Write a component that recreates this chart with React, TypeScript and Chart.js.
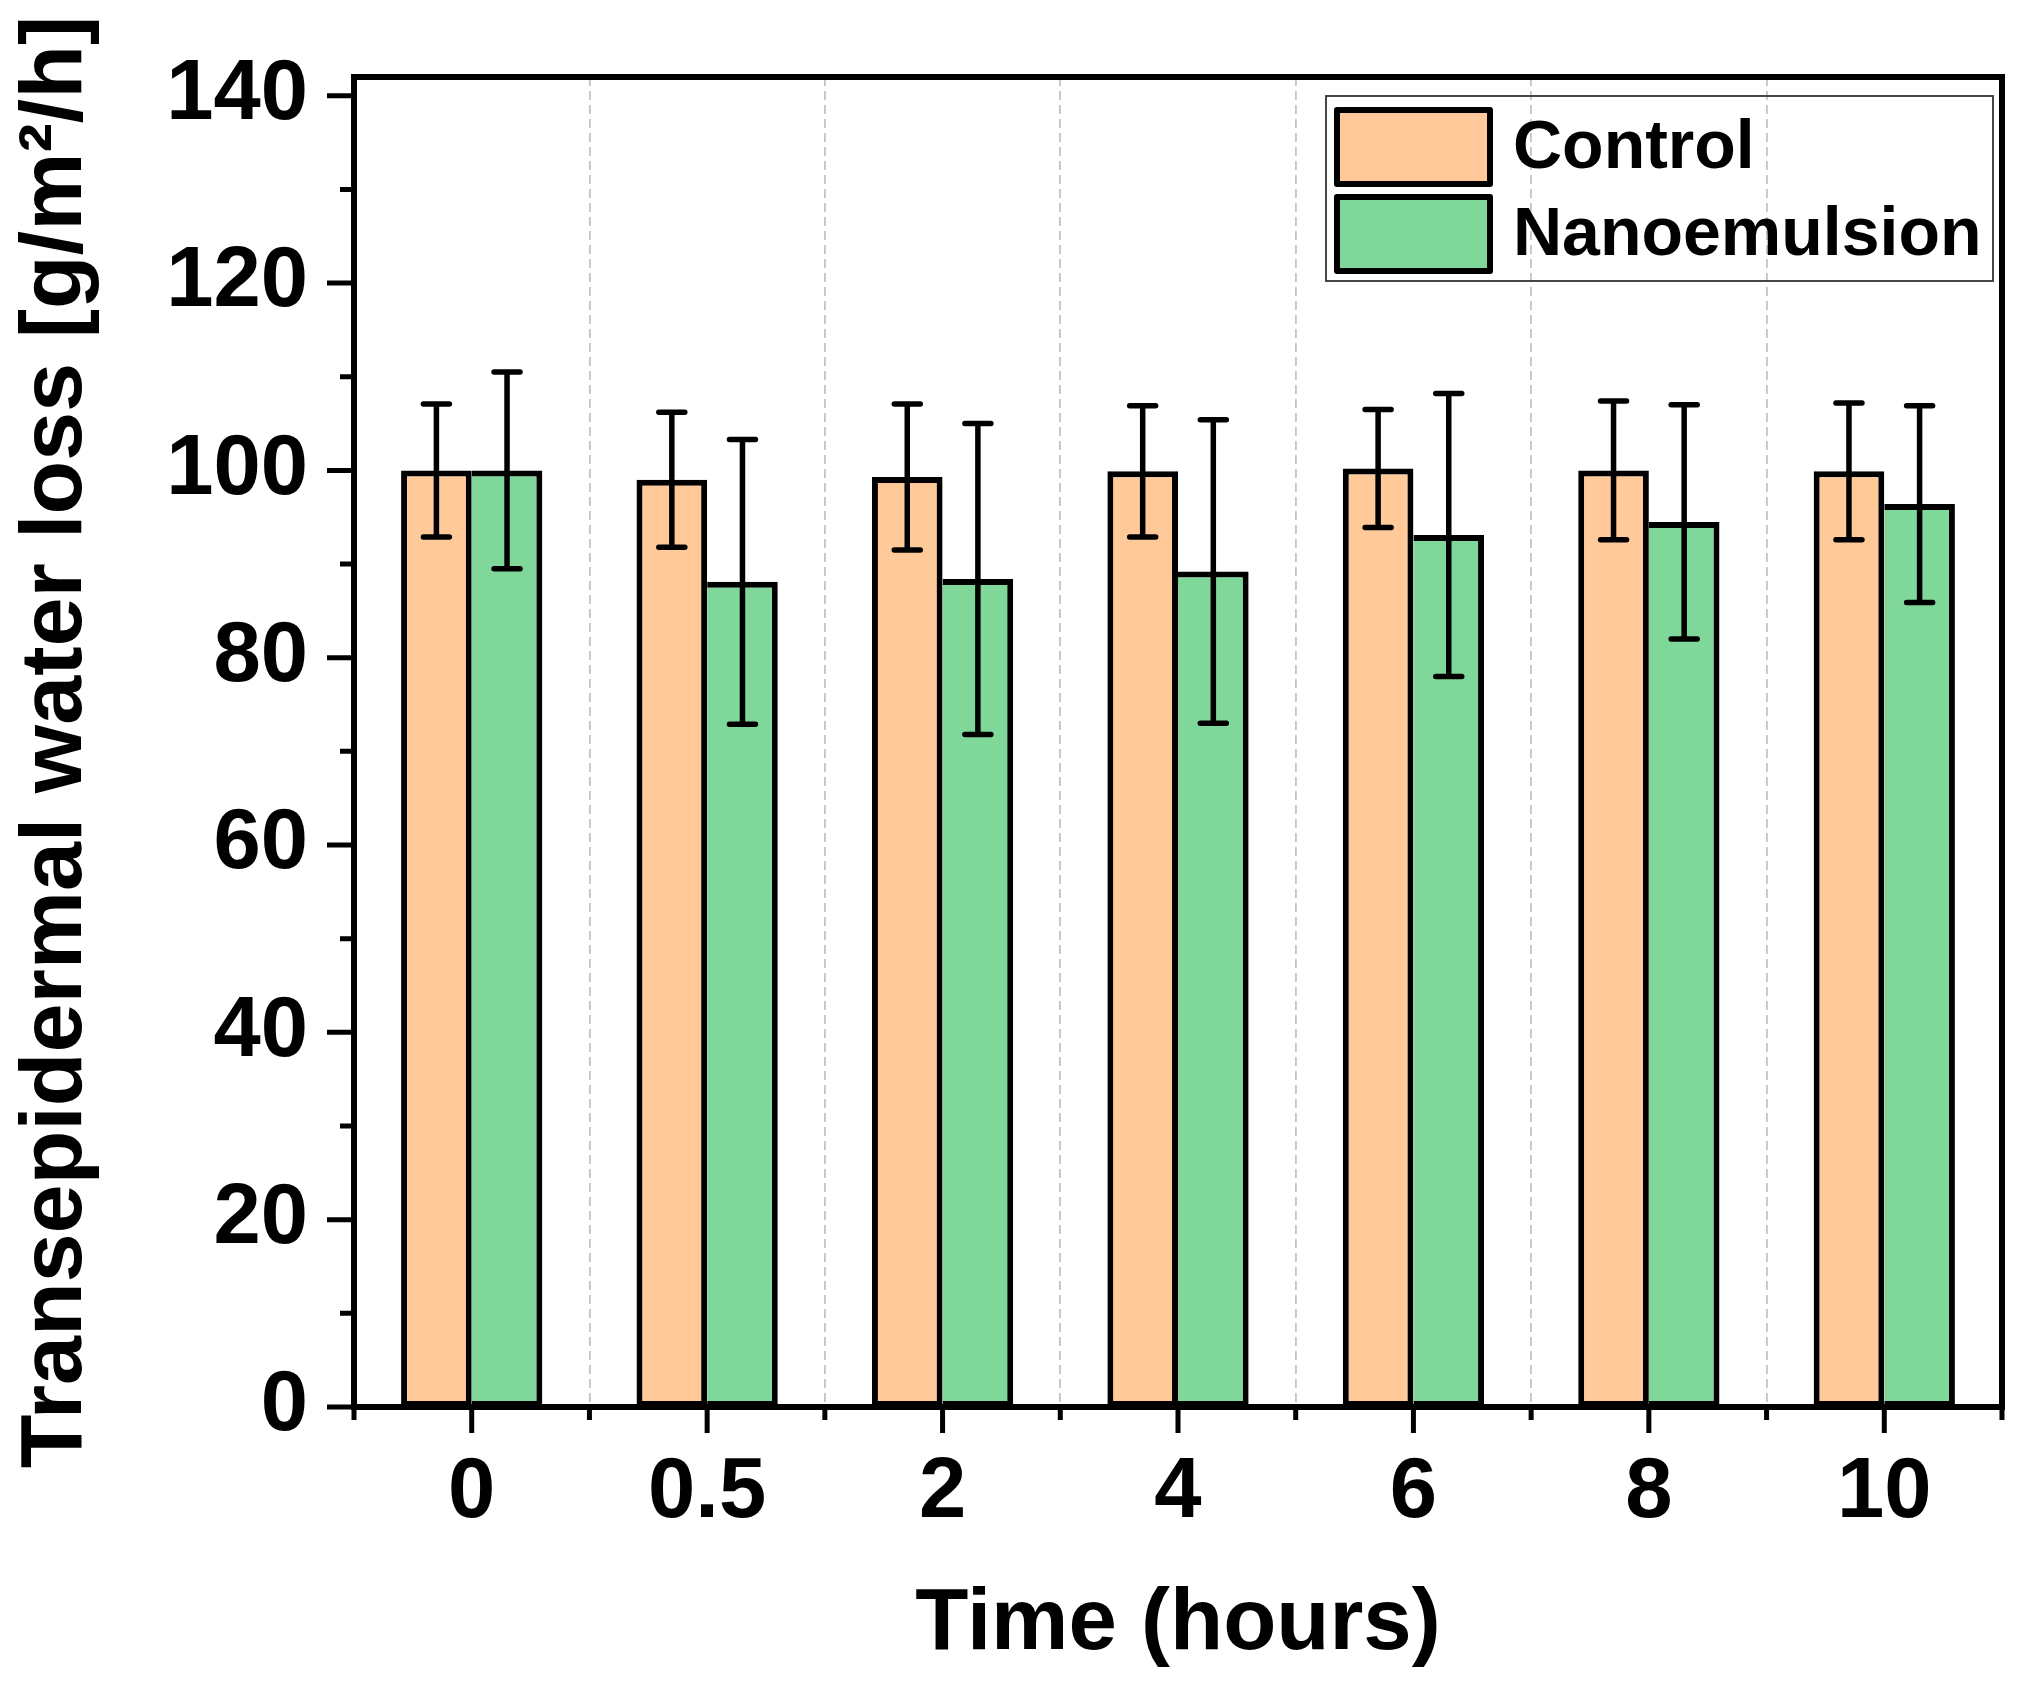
import { useEffect, useRef } from "react"
import { Chart, registerables } from "chart.js"

Chart.register(...registerables)

// Time points (hours)
const timeLabels = ["0", "0.5", "2", "4", "6", "8", "10"]

// TEWL means and error bars
const controlMeans = [100.0, 99.0, 99.3, 99.9, 100.2, 100.0, 99.9]
const controlErrors = [7.1, 7.2, 7.8, 7.0, 6.3, 7.4, 7.3]
const nanoMeans = [100.0, 88.1, 88.4, 89.2, 93.1, 94.5, 96.4]
const nanoErrors = [10.5, 15.2, 16.6, 16.2, 15.1, 12.5, 10.5]

const seriesNames = ["Control", "Nanoemulsion"]
const seriesColors = ["#FFC999", "#7FD899"]

const FONT = "'Liberation Sans', Arial, sans-serif"

const errorBarPlugin = {
  id: "errorBars",
  afterDatasetsDraw(chart: any) {
    const ctx = chart.ctx
    const yScale = chart.scales.y
    const errs = [controlErrors, nanoErrors]
    ctx.save()
    ctx.strokeStyle = "#000"
    ctx.lineWidth = 5.5
    ctx.lineCap = "round"
    chart.data.datasets.forEach((ds: any, d: number) => {
      const meta = chart.getDatasetMeta(d)
      meta.data.forEach((bar: any, i: number) => {
        const v = ds.data[i]
        const e = errs[d][i]
        const yt = yScale.getPixelForValue(v + e)
        const yb = yScale.getPixelForValue(v - e)
        ctx.beginPath()
        ctx.moveTo(bar.x, yt)
        ctx.lineTo(bar.x, yb)
        ctx.moveTo(bar.x - 13, yt)
        ctx.lineTo(bar.x + 13, yt)
        ctx.moveTo(bar.x - 13, yb)
        ctx.lineTo(bar.x + 13, yb)
        ctx.stroke()
      })
    })
    ctx.restore()
  },
}

const framePlugin = {
  id: "frameTicks",
  afterDraw(chart: any) {
    const ctx = chart.ctx
    const { left, right, top, bottom } = chart.chartArea
    const x = chart.scales.x
    const y = chart.scales.y
    ctx.save()
    ctx.strokeStyle = "#000"
    ctx.lineWidth = 5
    ctx.lineCap = "butt"
    ctx.beginPath()
    // y ticks: major every 20, minor every 10
    for (let v = 0; v <= 140; v += 10) {
      const py = y.getPixelForValue(v)
      const len = v % 20 === 0 ? 27 : 14
      ctx.moveTo(left - len, py)
      ctx.lineTo(left, py)
    }
    // x ticks: major at category centres, minor at boundaries
    const n = timeLabels.length
    for (let i = 0; i < n; i++) {
      const px = x.getPixelForValue(i)
      ctx.moveTo(px, bottom)
      ctx.lineTo(px, bottom + 26)
    }
    for (let k = 0; k <= n; k++) {
      const px = left + (k * (right - left)) / n
      ctx.moveTo(px, bottom)
      ctx.lineTo(px, bottom + 13)
    }
    ctx.stroke()
    ctx.lineWidth = 6
    ctx.strokeRect(left, top, right - left, bottom - top)

    // legend inside the plot, top right
    const lw = 667
    const lh = 185
    const lx = right - 9 - lw
    const ly = top + 19
    ctx.lineWidth = 1.8
    ctx.strokeStyle = "#333"
    ctx.strokeRect(lx, ly, lw, lh)
    ctx.font = `bold 68px ${FONT}`
    ctx.textBaseline = "middle"
    ctx.textAlign = "left"
    seriesNames.forEach((name, i) => {
      const sx = lx + 11
      const sy = ly + 14 + i * 87
      ctx.fillStyle = seriesColors[i]
      ctx.fillRect(sx, sy, 153, 74)
      ctx.lineWidth = 6
      ctx.strokeStyle = "#000"
      ctx.lineJoin = "round"
      ctx.strokeRect(sx, sy, 153, 74)
      ctx.fillStyle = "#000"
      ctx.fillText(name, lx + 187, sy + 39)
    })
    ctx.restore()
  },
}

export default function App() {
  const canvasRef = useRef<HTMLCanvasElement>(null)
  const chartRef = useRef<Chart | null>(null)

  useEffect(() => {
    if (!canvasRef.current) return
    if (chartRef.current) chartRef.current.destroy()

    chartRef.current = new Chart(canvasRef.current, {
      type: "bar",
      data: {
        labels: timeLabels,
        datasets: [
          {
            label: seriesNames[0],
            data: controlMeans,
            backgroundColor: seriesColors[0],
            borderColor: "#000",
            borderWidth: 6,
            borderSkipped: false,
          },
          {
            label: seriesNames[1],
            data: nanoMeans,
            backgroundColor: seriesColors[1],
            borderColor: "#000",
            borderWidth: { top: 6, right: 6, bottom: 6, left: 0 },
            borderSkipped: false,
          },
        ],
      },
      options: {
        responsive: false,
        animation: false,
        devicePixelRatio: 1,
        layout: { padding: { left: 0, right: 20, top: 77, bottom: 0 } },
        categoryPercentage: 0.6,
        barPercentage: 1.0,
        plugins: {
          legend: { display: false },
          tooltip: { enabled: false },
        },
        scales: {
          x: {
            grid: {
              display: true,
              offset: true,
              color: "#c4c4c4",
              lineWidth: 1.8,
              drawTicks: false,
            },
            border: { display: false, dash: [9, 5] },
            ticks: {
              color: "#000",
              font: { family: FONT, size: 85, weight: "bold" },
              padding: 36,
              maxRotation: 0,
            },
            title: {
              display: true,
              text: "Time (hours)",
              color: "#000",
              font: { family: FONT, size: 87, weight: "bold" },
              padding: { top: 0, bottom: 9 },
            },
            afterFit: (scale: any) => {
              scale.height = 279
              scale.paddingLeft = 0
              scale.paddingRight = 0
            },
          },
          y: {
            min: 0,
            max: 142,
            grid: { display: false, drawTicks: false },
            border: { display: false },
            ticks: {
              stepSize: 20,
              includeBounds: false,
              color: "#000",
              font: { family: FONT, size: 85, weight: "bold" },
              padding: 46,
            },
            title: {
              display: true,
              text: "Transepidermal water loss [g/m²/h]",
              color: "#000",
              font: { family: FONT, size: 88, weight: "bold" },
              padding: { top: 4, bottom: 0 },
            },
            afterFit: (scale: any) => {
              scale.width = 354
              scale.paddingTop = 0
              scale.paddingBottom = 0
            },
          },
        },
      } as any,
      plugins: [errorBarPlugin, framePlugin],
    })

    return () => {
      if (chartRef.current) {
        chartRef.current.destroy()
        chartRef.current = null
      }
    }
  }, [])

  return (
    <div style={{ position: "absolute", left: 0, top: 0, width: 2022, height: 1686, background: "#fff" }}>
      <canvas ref={canvasRef} width={2022} height={1686}></canvas>
    </div>
  )
}
